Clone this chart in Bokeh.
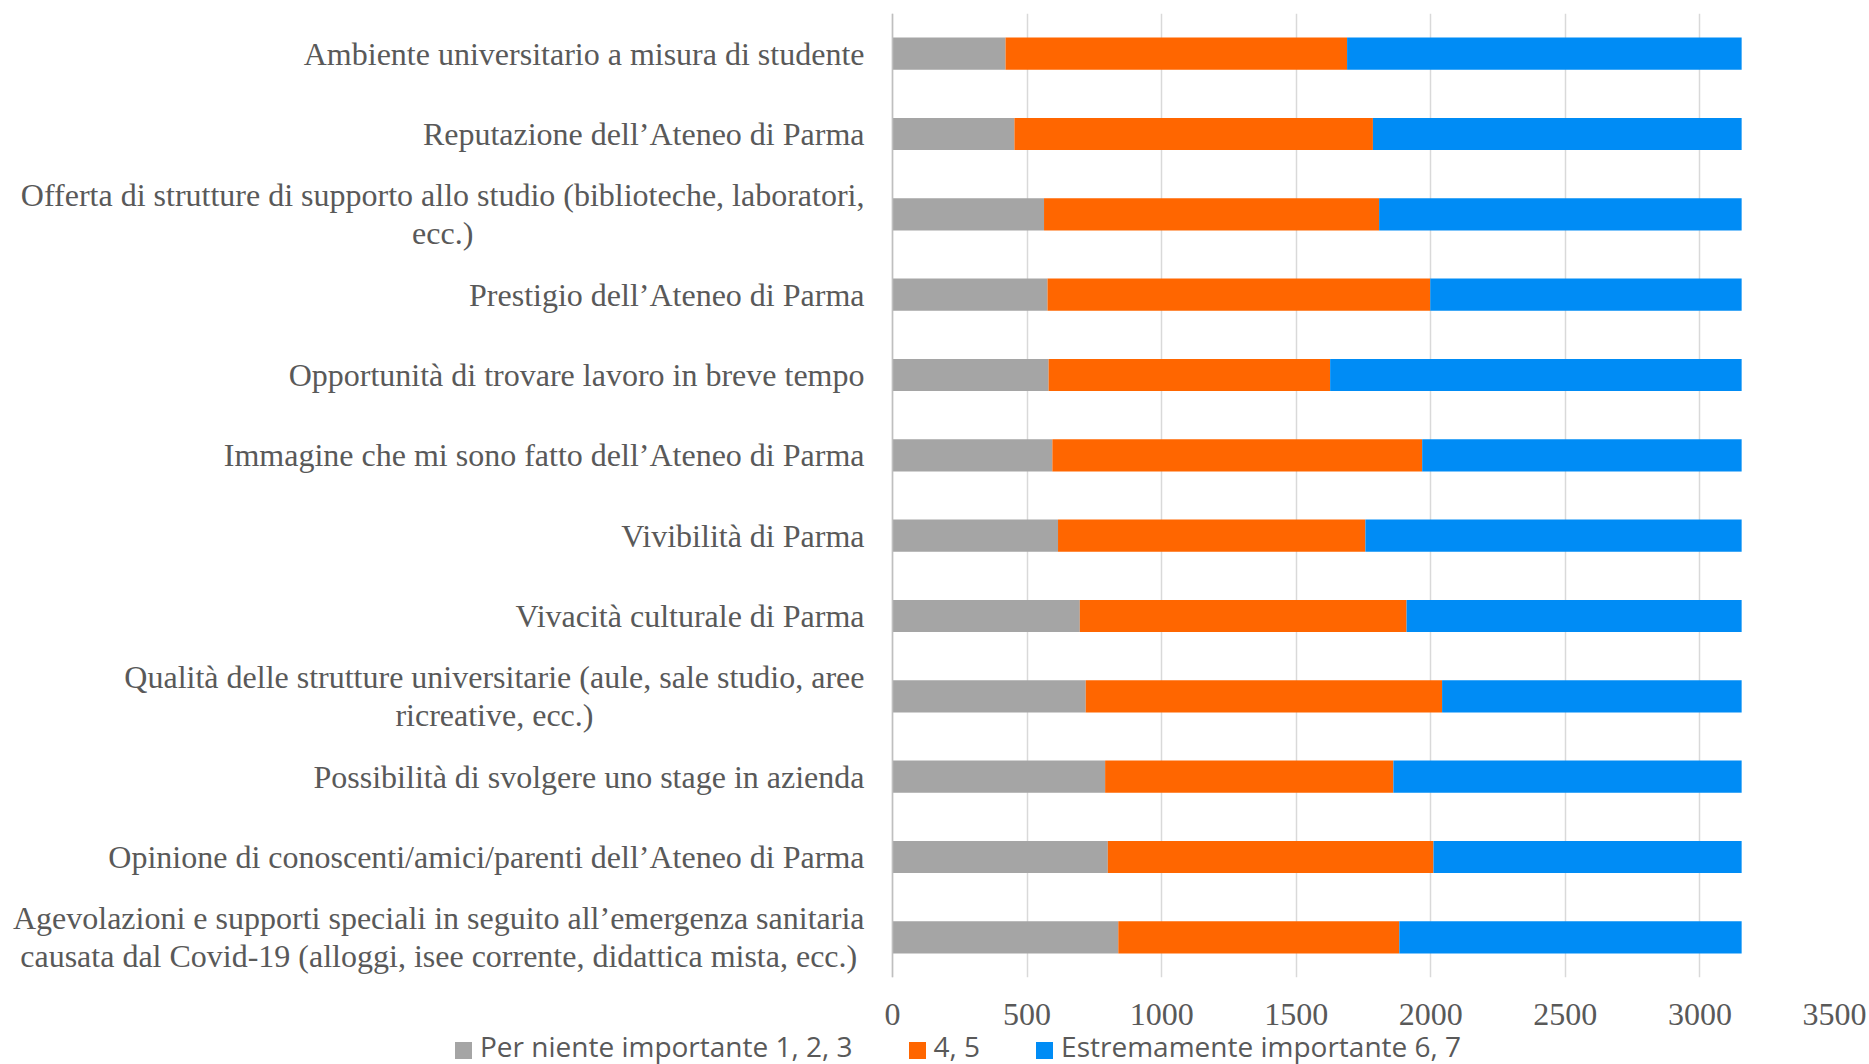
from bokeh.plotting import figure
from bokeh.layouts import column
from bokeh.core.properties import value
from bokeh.models import FactorRange, Range1d, FixedTicker, ColumnDataSource, Div, Span
from bokeh.embed import file_html
from bokeh.resources import INLINE

# Categories, top to bottom as in the chart
categories = [
    "Ambiente universitario a misura di studente",
    "Reputazione dell\u2019Ateneo di Parma",
    "Offerta di strutture di supporto allo studio (biblioteche, laboratori,\necc.)",
    "Prestigio dell\u2019Ateneo di Parma",
    "Opportunit\u00e0 di trovare lavoro in breve tempo",
    "Immagine che mi sono fatto dell\u2019Ateneo di Parma",
    "Vivibilit\u00e0 di Parma",
    "Vivacit\u00e0 culturale di Parma",
    "Qualit\u00e0 delle strutture universitarie (aule, sale studio, aree\nricreative, ecc.)",
    "Possibilit\u00e0 di svolgere uno stage in azienda",
    "Opinione di conoscenti/amici/parenti dell\u2019Ateneo di Parma",
    "Agevolazioni e supporti speciali in seguito all\u2019emergenza sanitaria\ncausata dal Covid-19 (alloggi, isee corrente, didattica mista, ecc.)",
]
per_niente = [420, 453, 563, 576, 580, 594, 615, 696, 718, 790, 800, 839]
medio = [1269, 1332, 1245, 1422, 1046, 1374, 1142, 1214, 1324, 1071, 1210, 1044]
estremamente = [1466, 1370, 1347, 1157, 1529, 1187, 1398, 1245, 1113, 1294, 1145, 1272]

series_names = ["Per niente importante 1, 2, 3", "4, 5", "Estremamente importante 6, 7"]
colors = ["#A5A5A5", "#FF6600", "#008CF5"]
x_ticks = [0, 500, 1000, 1500, 2000, 2500, 3000, 3500]

# Layout: the frame also holds the category-label area to the left of the value 0
X_MAX = 3500
LABEL_AREA_PX = 892
PLOT_AREA_PX = 942
x_start = -X_MAX * LABEL_AREA_PX / PLOT_AREA_PX

source = ColumnDataSource(data=dict(cat=categories, s0=per_niente, s1=medio, s2=estremamente))

p = figure(
    width=1869, height=1034,
    y_range=FactorRange(factors=list(reversed(categories))),
    x_range=Range1d(x_start, X_MAX),
    y_axis_location=None,
    output_backend="svg", toolbar_location=None,
    min_border_left=0, min_border_right=35, min_border_top=13, min_border_bottom=57,
)
p.outline_line_color = None
p.background_fill_color = "white"
p.border_fill_color = "white"

renderers = p.hbar_stack(["s0", "s1", "s2"], y="cat", height=0.4, fill_color=colors,
                         line_color=None, source=source, legend_label=series_names)
p.legend.visible = False

# Category labels: block right-aligned next to the axis, lines centred
p.text(x=0, y="cat", text="cat", source=source,
       anchor="center_right", text_align="center", x_offset=-28,
       text_font=value("Liberation Serif"), text_font_size=value("32px"),
       text_color="#595959", text_line_height=1.05)

p.xaxis.ticker = FixedTicker(ticks=x_ticks)
p.xaxis.axis_line_color = None
p.xaxis.major_tick_line_color = None
p.xaxis.minor_tick_line_color = None
p.xaxis.major_label_text_font = "Liberation Serif"
p.xaxis.major_label_text_font_size = "32px"
p.xaxis.major_label_text_color = "#595959"
p.xaxis.major_label_standoff = 20

p.xgrid.grid_line_color = "#D9D9D9"
p.xgrid.grid_line_width = 1.5
p.ygrid.grid_line_color = None

# Vertical axis line at value 0
p.add_layout(Span(location=0, dimension="height", line_color="#BFBFBF", line_width=1.5))

# Legend strip below the chart (built from the series names and colours)
items_html = "".join(
    f'<span style="display:inline-block;width:17px;height:17px;background:{c};'
    f'margin-right:8px;position:relative;top:2px;"></span>'
    f'<span style="margin-right:56px;">{n}</span>'
    for n, c in zip(series_names, colors)
)
legend_div = Div(
    text=(
        '<div style="font-family:\'Open Sans\';font-size:28px;color:#595959;'
        'line-height:30px;white-space:nowrap;padding-left:455px;position:relative;top:-3px;">'
        + items_html + "</div>"
    ),
    width=1869, height=30, margin=0,
)

layout = column(p, legend_div, spacing=0)

open("out.html", "w").write(file_html(layout, INLINE))
